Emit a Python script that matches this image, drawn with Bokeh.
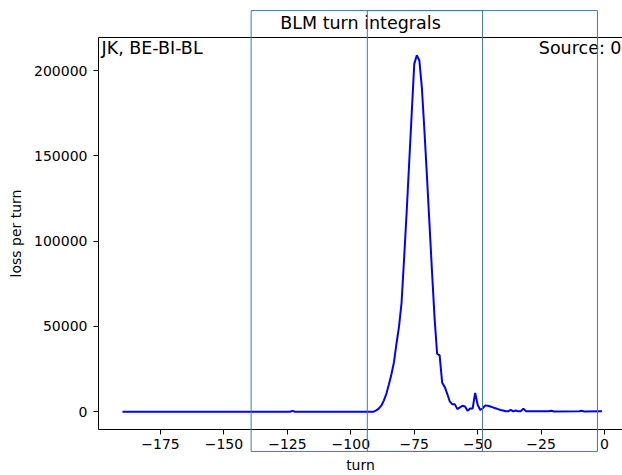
from bokeh.plotting import figure
from bokeh.models import Range1d, FixedTicker, Label, LinearAxis, BasicTickFormatter
from bokeh.embed import file_html
from bokeh.resources import INLINE

# ---------------- data ----------------
turns = [-190, -124, -123, -122, -92, -91, -90, -89, -88, -87, -86, -85, -84, -83, -82,
         -81, -80, -79, -78, -77, -76, -75, -74, -73, -72, -71, -70, -69, -68, -67,
         -66, -65, -64, -63, -62, -61, -60, -59, -58, -57, -56, -55, -54, -53, -52,
         -51, -50, -49, -48, -47, -46, -45, -44, -43, -42, -41, -40, -39, -38, -37,
         -36, -35, -34, -33, -32, -31, -30, -25, -22, -21, -20, -10, -9, -8, -1]
losses = [0, 0, 500, 0, 0, 0, 800, 1800, 3500, 6500, 10500, 16000, 22000, 29000, 40000,
          50000, 64000, 90000, 117000, 146000, 175000, 204000, 209000, 206000, 190000, 165000, 138000, 110000, 82000, 55000,
          34000, 33000, 17000, 14500, 10500, 6000, 4300, 4300, 1500, 2500, 3500, 3000, 600, 1800, 1800,
          11000, 4000, 1000, 2000, 3700, 3500, 3000, 2500, 2000, 1500, 1000, 700, 300, 200, 1100,
          200, 700, 200, 300, 1800, 300, 200, 200, 200, 500, 150, 200, 500, 150, 200]

x_ticks = [-175, -150, -125, -100, -75, -50, -25, 0]
x_tick_labels = ["\u2212175", "\u2212150", "\u2212125", "\u2212100", "\u221275", "\u221250", "\u221225", "0"]
y_ticks = [0, 50000, 100000, 150000, 200000]
y_tick_labels = ["0", "50000", "100000", "150000", "200000"]

window_starts = [-139.3, -93.5]
window_ends = [-48.1, -2.8]

title_text = "BLM turn integrals"
left_note = "JK, BE-BI-BL"
right_note = "Source: 0"
x_label = "turn"
y_label = "loss per turn"

# ---------------- layout ----------------
W, H = 622, 475
B_LEFT, B_RIGHT, B_TOP, B_BOTTOM = 98, 0, 37, 45
frame_w = W - B_LEFT - B_RIGHT
frame_h = H - B_TOP - B_BOTTOM
full_frame_w = 527.5  # frame extends past the window on the right

xmin, xmax = min(turns), max(turns)
xspan = xmax - xmin
x0 = xmin - 0.05 * xspan
x1_full = xmax + 0.05 * xspan
x1 = x0 + (x1_full - x0) * frame_w / full_frame_w

ymin, ymax = min(losses), max(losses)
yspan = ymax - ymin
y0 = ymin - 0.05 * yspan
y1 = ymax + 0.05 * yspan
y_per_px = (y1 - y0) / frame_h

FONT = "DejaVu Sans"
SMALL = "14px"
BIG = "17.5px"

p = figure(width=W, height=H, output_backend="svg", toolbar_location=None,
           x_range=Range1d(x0, x1), y_range=Range1d(y0, y1))
p.min_border = 0
p.min_border_left = B_LEFT
p.min_border_right = B_RIGHT
p.min_border_top = B_TOP
p.min_border_bottom = B_BOTTOM
p.outline_line_color = None
p.xgrid.visible = False
p.ygrid.visible = False
p.background_fill_color = "white"
p.border_fill_color = "white"

p.title.text = title_text
p.title.align = "center"
p.title.text_font = FONT
p.title.text_font_size = BIG
p.title.text_font_style = "normal"
p.title.text_color = "black"
p.title.offset = 2

p.line(turns, losses, line_color="#0000ff", line_width=2)

bottom_axis = p.below[0]
left_axis = p.left[0]

for ax in (bottom_axis, left_axis):
    ax.axis_line_color = "black"
    ax.axis_line_width = 1
    ax.major_tick_line_color = "black"
    ax.major_tick_line_width = 1
    ax.major_tick_out = 5
    ax.major_tick_in = 0
    ax.minor_tick_line_color = None
    ax.major_label_text_font = FONT
    ax.major_label_text_font_size = SMALL
    ax.major_label_text_color = "black"
    ax.axis_label_text_font = FONT
    ax.axis_label_text_font_size = SMALL
    ax.axis_label_text_font_style = "normal"
    ax.axis_label_text_color = "black"

bottom_axis.ticker = FixedTicker(ticks=x_ticks)
bottom_axis.major_label_overrides = dict(zip(x_ticks, x_tick_labels))
bottom_axis.major_label_standoff = 4
bottom_axis.axis_label = x_label
bottom_axis.axis_label_standoff = 5

left_axis.ticker = FixedTicker(ticks=y_ticks)
left_axis.formatter = BasicTickFormatter(use_scientific=False)
left_axis.major_label_overrides = dict(zip(y_ticks, y_tick_labels))
left_axis.major_label_standoff = 6
left_axis.axis_label = y_label
left_axis.axis_label_standoff = 7

# top spine
top_axis = LinearAxis(ticker=FixedTicker(ticks=[]), major_tick_out=0, major_tick_in=0,
                      minor_tick_out=0, minor_tick_in=0, major_label_text_font_size="0px",
                      axis_line_color="black", axis_line_width=1)
p.add_layout(top_axis, "above")

# window rectangles (overlay level so they may reach outside the frame)
rect_top = [y1 + 27 * y_per_px] * len(window_starts)
rect_bottom = [y0 - 22 * y_per_px] * len(window_starts)
p.quad(left=window_starts, right=window_ends, top=rect_top, bottom=rect_bottom,
       fill_color=None, line_color="#4a74b0", line_width=1, level="overlay")

p.add_layout(Label(x=x0, y=y1, x_offset=3, y_offset=-10, text=left_note,
                   text_align="left", text_baseline="alphabetic",
                   text_font=FONT, text_font_size=BIG, text_color="black"))
p.add_layout(Label(x=x1, y=y1, x_offset=-1, y_offset=-10, text=right_note,
                   text_align="right", text_baseline="alphabetic",
                   text_font=FONT, text_font_size=BIG, text_color="black"))

open("out.html", "w").write(file_html(p, INLINE))
